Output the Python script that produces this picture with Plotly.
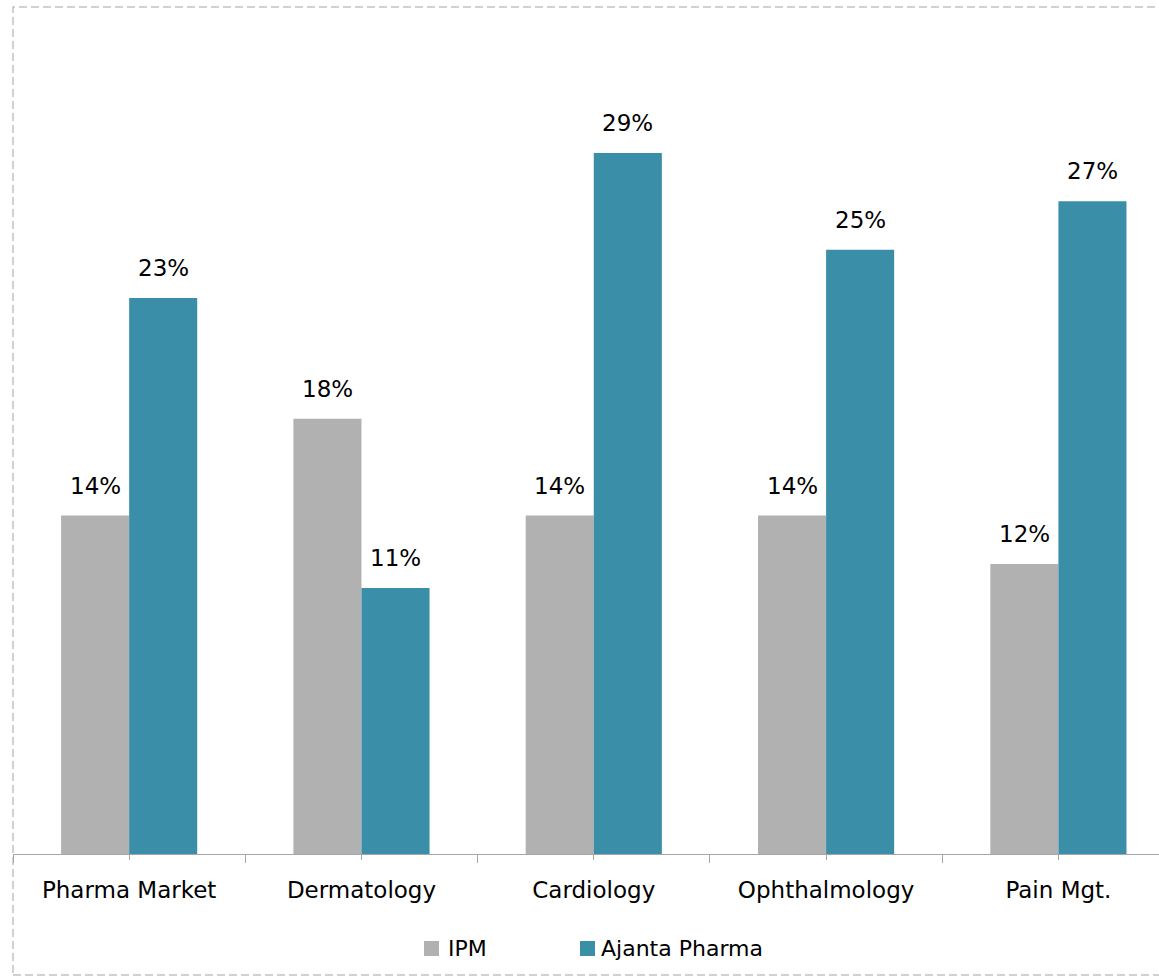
import plotly.graph_objects as go

categories = ["Pharma Market", "Dermatology", "Cardiology", "Ophthalmology", "Pain Mgt."]
ipm = [14, 18, 14, 14, 12]
ajanta = [23, 11, 29, 25, 27]
series_names = ["IPM", "Ajanta Pharma"]
colors = ["#B1B1B1", "#3A8EA8"]

FONT = "DejaVu Sans"
xpos = list(range(len(categories)))

fig = go.Figure()
for name, vals, col in zip(series_names, [ipm, ajanta], colors):
    fig.add_trace(go.Bar(x=xpos, y=vals, name=name, showlegend=False,
                         marker=dict(color=col, line=dict(width=0))))

# data labels
ann = []
for vals, shift in ((ipm, -34), (ajanta, 34)):
    for i, v in enumerate(vals):
        ann.append(dict(x=xpos[i], y=v, text=f"{v}%", showarrow=False, xshift=shift, yshift=15,
                        yanchor="bottom", font=dict(family=FONT, size=23, color="black")))

# legend (drawn below the axis); plot area: x 13..1159 px, y 20..854 px
W, H = 1159, 979
L, T, B = 13, 20, 854
def px(x):
    return (x - L) / (W - L)
def py(y):
    return (B - y) / (B - T)

shapes = []
leg_sq = [(424, 439), (580, 595)]
leg_tx = [446, 599]
for name, col, (a, b), tx in zip(series_names, colors, leg_sq, leg_tx):
    shapes.append(dict(type="rect", xref="paper", yref="paper", x0=px(a), x1=px(b),
                       y0=py(956), y1=py(941), fillcolor=col, line=dict(width=0)))
    ann.append(dict(xref="paper", yref="paper", x=px(tx), y=py(948.5), text=name, showarrow=False,
                    xanchor="left", yanchor="middle",
                    font=dict(family=FONT, size=22, color="black")))

# dashed outer frame
shapes.append(dict(type="rect", xref="paper", yref="paper",
                   x0=0, x1=px(1180), y0=py(975), y1=py(7),
                   line=dict(color="#C2C2C2", width=1.5, dash="8px,4px"), layer="below"))

fig.update_layout(
    width=W, height=H,
    margin=dict(l=L, r=0, t=T, b=H - B),
    paper_bgcolor="white", plot_bgcolor="white",
    barmode="group", bargap=0.414, bargroupgap=0,
    showlegend=False,
    annotations=ann,
    shapes=shapes,
)
fig.update_xaxes(
    range=[-0.5, 4.433], tickmode="array", tickvals=xpos, ticktext=categories,
    showline=True, linecolor="#A6A6A6", linewidth=1.2, showgrid=False, zeroline=False,
    ticks="outside", ticklen=5, tickcolor="#A6A6A6", tickwidth=1.2,
    tickfont=dict(family=FONT, size=23, color="black"), ticklabelstandoff=10,
    minor=dict(tickmode="array", tickvals=[-0.5, 0.5, 1.5, 2.5, 3.5, 4.5], ticks="outside",
               ticklen=8, tickcolor="#A6A6A6", tickwidth=1.2, showgrid=False),
)
fig.update_yaxes(range=[0, 34.5], visible=False)

fig.write_html("out.html", config={"displayModeBar": False},
               post_script="document.body.style.margin='0';document.body.style.overflow='hidden';")
